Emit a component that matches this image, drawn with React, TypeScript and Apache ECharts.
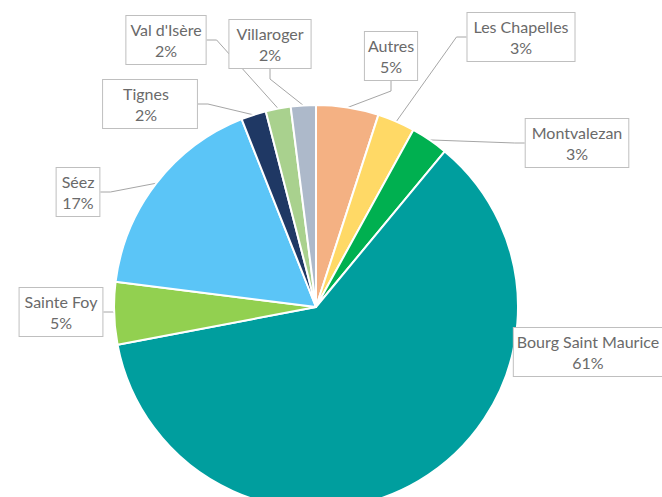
import React, { useEffect, useRef } from "react";
import * as echarts from "echarts";

const categories = [
  "Autres",
  "Les Chapelles",
  "Montvalezan",
  "Bourg Saint Maurice",
  "Sainte Foy",
  "Séez",
  "Tignes",
  "Val d'Isère",
  "Villaroger",
];
const shares = [5, 3, 3, 61, 5, 17, 2, 2, 2];
const colors = [
  "#F4B183",
  "#FFD966",
  "#00B050",
  "#009E9E",
  "#92D050",
  "#5BC5F7",
  "#1F3864",
  "#A9D18E",
  "#ADB9CA",
];
// label box centres (layout only)
const labelCenters: [number, number][] = [
  [391, 56],
  [521, 37],
  [577, 143],
  [588, 352],
  [61, 312],
  [78, 192],
  [150, 104],
  [166, 40],
  [270, 44],
];
const labelPadding: number[][] = [
  [3, 3, 3, 3],
  [3, 6, 3, 6],
  [3, 6, 3, 6],
  [3, 3, 3, 3],
  [3, 5, 3, 5],
  [3, 5, 3, 5],
  [3, 28, 3, 20],
  [3, 4, 3, 4],
  [3, 7, 3, 7],
];

export default function App() {
  const ref = useRef<HTMLDivElement>(null);
  useEffect(() => {
    document.body.style.margin = "0";
    const chart = echarts.init(ref.current!, null, { renderer: "svg" });
    chart.setOption({
      animation: false,
      backgroundColor: "#ffffff",
      series: [
        {
          type: "pie",
          center: [316, 307],
          radius: 202,
          startAngle: 90,
          clockwise: true,
          avoidLabelOverlap: false,
          itemStyle: { borderColor: "#ffffff", borderWidth: 2 },
          label: {
            show: true,
            position: "outside",
            formatter: "{b}\n{c}%",
            fontFamily: "Lato, 'Open Sans', sans-serif",
            fontSize: 16,
            lineHeight: 21,
            color: "#6a6a6a",
            align: "center",
            backgroundColor: "#ffffff",
            borderColor: "#bfbfbf",
            borderWidth: 1,
          },
          labelLine: {
            show: true,
            length: 12,
            length2: 10,
            lineStyle: { color: "#a6a6a6", width: 1 },
          },
          labelLayout: (params: any) => {
            const c = labelCenters[params.dataIndex];
            return {
              x: c[0],
              y: c[1],
              align: "center",
              verticalAlign: "middle",
              hideOverlap: false,
            };
          },
          data: categories.map((name, i) => ({
            name,
            value: shares[i],
            itemStyle: { color: colors[i] },
            label: { padding: labelPadding[i] },
          })),
        },
      ],
    });
    return () => chart.dispose();
  }, []);
  return <div ref={ref} style={{ width: 662, height: 497 }} />;
}
